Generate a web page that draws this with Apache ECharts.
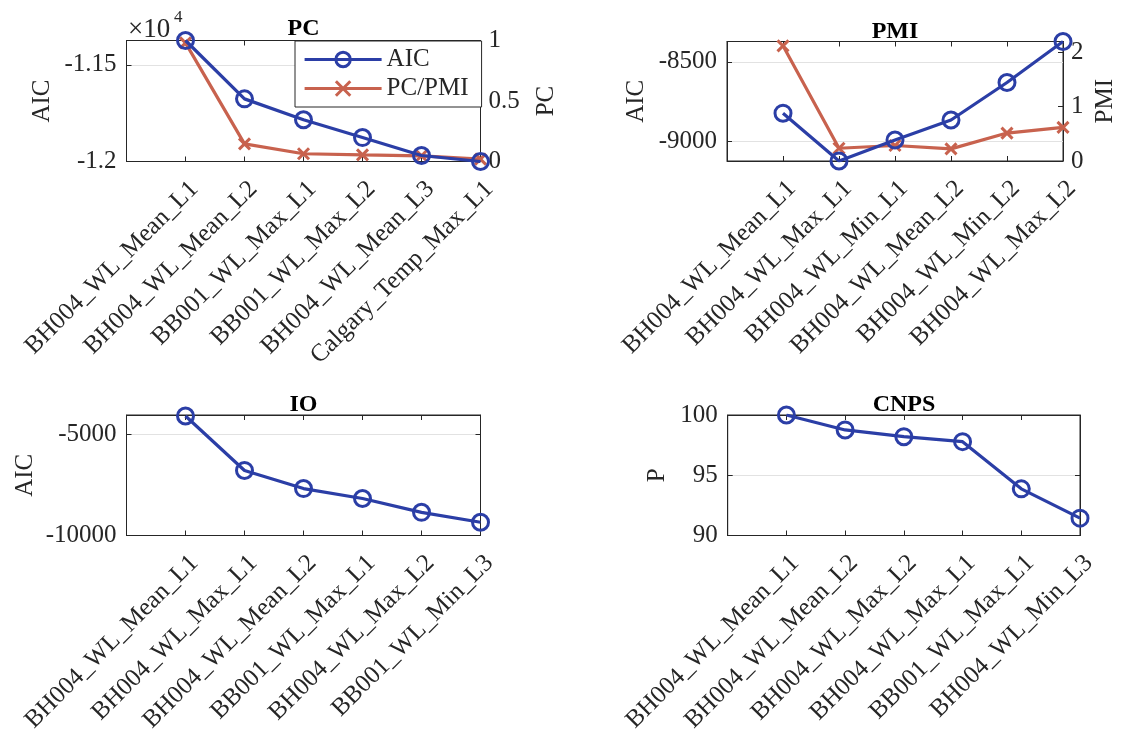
<!DOCTYPE html>
<html>
<head>
<meta charset="utf-8">
<script src="https://cdn.jsdelivr.net/npm/echarts@6/dist/echarts.min.js"></script>
<style>
  html, body { margin: 0; padding: 0; background: #ffffff; }
  #chart { width: 1125px; height: 736px; }
</style>
</head>
<body>
<div id="chart"></div>
<script>
// ---- data ----
const pcNames = ['BH004_WL_Mean_L1', 'BH004_WL_Mean_L2', 'BB001_WL_Max_L1', 'BB001_WL_Max_L2', 'BH004_WL_Mean_L3', 'Calgary_Temp_Max_L1'];
const pcAic = [-11374, -11676, -11784, -11876, -11969, -12000];
const pcScore = [0.98, 0.146, 0.064, 0.055, 0.047, 0.02];

const pmiNames = ['BH004_WL_Mean_L1', 'BH004_WL_Max_L1', 'BH004_WL_Min_L1', 'BH004_WL_Mean_L2', 'BH004_WL_Min_L2', 'BH004_WL_Max_L2'];
const pmiAic = [-8823, -9124, -8992, -8866, -8630, -8372];
const pmiScore = [2.12, 0.235, 0.285, 0.223, 0.514, 0.619];

const ioNames = ['BH004_WL_Mean_L1', 'BH004_WL_Max_L1', 'BH004_WL_Mean_L2', 'BB001_WL_Max_L1', 'BH004_WL_Max_L2', 'BB001_WL_Min_L3'];
const ioAic = [-4100, -6789, -7683, -8172, -8856, -9345];

const cnpsNames = ['BH004_WL_Mean_L1', 'BH004_WL_Mean_L2', 'BH004_WL_Max_L2', 'BH004_WL_Max_L1', 'BB001_WL_Max_L1', 'BH004_WL_Min_L3'];
const cnpsP = [100, 98.76, 98.2, 97.79, 93.87, 91.44];

// ---- styling ----
const BLUE = '#2b3ea6';
const RED = '#c8624e';
const INK = '#262626';
const GRIDC = '#e2e2e2';
const FONT = 'Liberation Serif';
const FS = 25;

const boxes = [
  { left: 126.5, top: 40.5, width: 354, height: 121 },   // PC
  { left: 727, top: 41.5, width: 336, height: 119.5 },    // PMI
  { left: 126.5, top: 415, width: 354, height: 120.5 },  // IO
  { left: 727.7, top: 415, width: 352.3, height: 120.5 } // CNPS
];

const toPairs = vals => vals.map((v, i) => [i + 1, v]);

function xBottom(gi, names) {
  return {
    type: 'value', gridIndex: gi, position: 'bottom', min: 0, max: 6, interval: 1,
    axisLine: { show: true, onZero: false, lineStyle: { color: INK, width: 1 } },
    axisTick: { show: true, inside: true, length: 5, lineStyle: { color: INK } },
    axisLabel: {
      rotate: 45, margin: 15, verticalAlign: 'top', fontSize: FS, fontFamily: FONT, color: INK,
      showMinLabel: true, showMaxLabel: true,
      formatter: v => names[v - 1] || ''
    },
    splitLine: { show: false }
  };
}
function xTop(gi) {
  return {
    type: 'value', gridIndex: gi, position: 'top', min: 0, max: 6, interval: 1,
    axisLine: { show: true, onZero: false, lineStyle: { color: INK, width: 1 } },
    axisTick: { show: true, inside: true, length: 5, lineStyle: { color: INK } },
    axisLabel: { show: false },
    splitLine: { show: false }
  };
}
function yAxisCfg(gi, side, o) {
  const cfg = {
    type: 'value', gridIndex: gi, position: side, min: o.min, max: o.max,
    axisLine: { show: true, onZero: false, lineStyle: { color: INK, width: 1 } },
    axisTick: { show: true, inside: true, length: 5, lineStyle: { color: INK } },
    axisLabel: { show: o.label !== false, margin: side === 'left' ? 10 : 8, fontSize: FS, fontFamily: FONT, color: INK, formatter: o.formatter },
    splitLine: { show: !!o.grid, lineStyle: { color: GRIDC, width: 1 } },
    name: o.name || '', nameLocation: 'middle', nameGap: o.nameGap || 0, nameRotate: 90,
    nameTextStyle: { fontSize: FS, fontFamily: FONT, color: INK }
  };
  if (o.interval !== undefined) cfg.interval = o.interval;
  if (o.custom) {
    cfg.axisLabel.customValues = o.custom;
    cfg.axisTick.customValues = o.custom;
    cfg.splitLine.customValues = o.custom;
  }
  return cfg;
}
const onStep = step => v => (Math.abs(v / step - Math.round(v / step)) < 1e-9 ? String(v) : '');

const grids = boxes.map(b => Object.assign({ show: true, borderColor: INK, borderWidth: 1, containLabel: false, outerBoundsMode: 'none' }, b));

const xAxes = [
  xBottom(0, pcNames), xTop(0),
  xBottom(1, pmiNames), xTop(1),
  xBottom(2, ioNames), xTop(2),
  xBottom(3, cnpsNames), xTop(3)
];

const yAxes = [
  // PC
  yAxisCfg(0, 'left', { min: -12000, max: -11374, interval: 500, grid: true, name: 'AIC', nameGap: 72,
    formatter: v => (v % 500 === 0 ? String(v / 10000) : '') }),
  yAxisCfg(0, 'right', { min: 0, max: 1, interval: 0.5, name: 'PC', nameGap: 53, formatter: onStep(0.5) }),
  // PMI
  yAxisCfg(1, 'left', { min: -9124, max: -8372, custom: [-9000, -8500], grid: true, name: 'AIC', nameGap: 78,
    formatter: v => String(v) }),
  yAxisCfg(1, 'right', { min: 0, max: 2.2, interval: 1, name: 'PMI', nameGap: 30, formatter: onStep(1) }),
  // IO
  yAxisCfg(2, 'left', { min: -10000, max: -4050, interval: 5000, grid: true, name: 'AIC', nameGap: 89,
    formatter: v => (v % 5000 === 0 ? String(v) : '') }),
  yAxisCfg(2, 'right', { min: -10000, max: -4050, interval: 5000, label: false }),
  // CNPS
  yAxisCfg(3, 'left', { min: 90, max: 100, interval: 5, grid: true, name: 'P', nameGap: 58, formatter: v => String(v) }),
  yAxisCfg(3, 'right', { min: 90, max: 100, interval: 5, label: false })
];

const circleSeries = (name, xi, yi, vals) => ({
  name, type: 'line', xAxisIndex: xi, yAxisIndex: yi, data: toPairs(vals),
  symbol: 'circle', symbolSize: 16, showAllSymbol: true,
  lineStyle: { color: BLUE, width: 3.2 },
  itemStyle: { color: 'rgba(255,255,255,0)', borderColor: BLUE, borderWidth: 3 },
  emphasis: { disabled: true }, animation: false, z: 3
});
const crossSeries = (name, xi, yi, vals) => ({
  name, type: 'line', xAxisIndex: xi, yAxisIndex: yi, data: toPairs(vals),
  symbol: 'path://M0,0L10,10M10,0L0,10', symbolSize: 11, showAllSymbol: true,
  lineStyle: { color: RED, width: 3.2 },
  itemStyle: { color: RED, borderColor: RED, borderWidth: 3 },
  emphasis: { disabled: true }, animation: false, z: 2
});

const series = [
  crossSeries('PC/PMI', 0, 1, pcScore),
  circleSeries('AIC', 0, 0, pcAic),
  crossSeries('PC/PMI', 2, 3, pmiScore),
  circleSeries('AIC', 2, 2, pmiAic),
  circleSeries('AIC', 4, 4, ioAic),
  circleSeries('AIC', 6, 6, cnpsP)
];

const titleFont = { fontSize: 24, fontWeight: 'bold', fontFamily: FONT, color: '#000' };
const titles = [
  { text: 'PC', left: 303.5, top: 17, textAlign: 'center', textStyle: titleFont, padding: 0 },
  { text: 'PMI', left: 895, top: 20, textAlign: 'center', textStyle: titleFont, padding: 0 },
  { text: 'IO', left: 303.5, top: 393, textAlign: 'center', textStyle: titleFont, padding: 0 },
  { text: 'CNPS', left: 904, top: 393, textAlign: 'center', textStyle: titleFont, padding: 0 },
  { text: '×10', left: 128, top: 16, padding: 0, textStyle: { fontSize: 27, fontWeight: 'normal', fontFamily: FONT, color: INK } },
  { text: '4', left: 174, top: 9, padding: 0, textStyle: { fontSize: 17, fontWeight: 'normal', fontFamily: FONT, color: INK } }
];

const chart = echarts.init(document.getElementById('chart'), null, { renderer: 'canvas' });
chart.setOption({
  backgroundColor: '#ffffff',
  animation: false,
  title: titles,
  legend: {
    show: true, orient: 'vertical', left: 295, top: 41, data: ['AIC', 'PC/PMI'],
    itemWidth: 77, itemHeight: 18, itemGap: 4,
    backgroundColor: '#ffffff', borderColor: INK, borderWidth: 1, borderRadius: 0,
    padding: [6, 13, 6, 8], selectedMode: false,
    lineStyle: { width: 3.2 },
    itemStyle: { borderWidth: 3 },
    textStyle: { fontSize: FS, fontFamily: FONT, color: INK }
  },
  grid: grids,
  xAxis: xAxes,
  yAxis: yAxes,
  series: series
});
</script>
</body>
</html>
